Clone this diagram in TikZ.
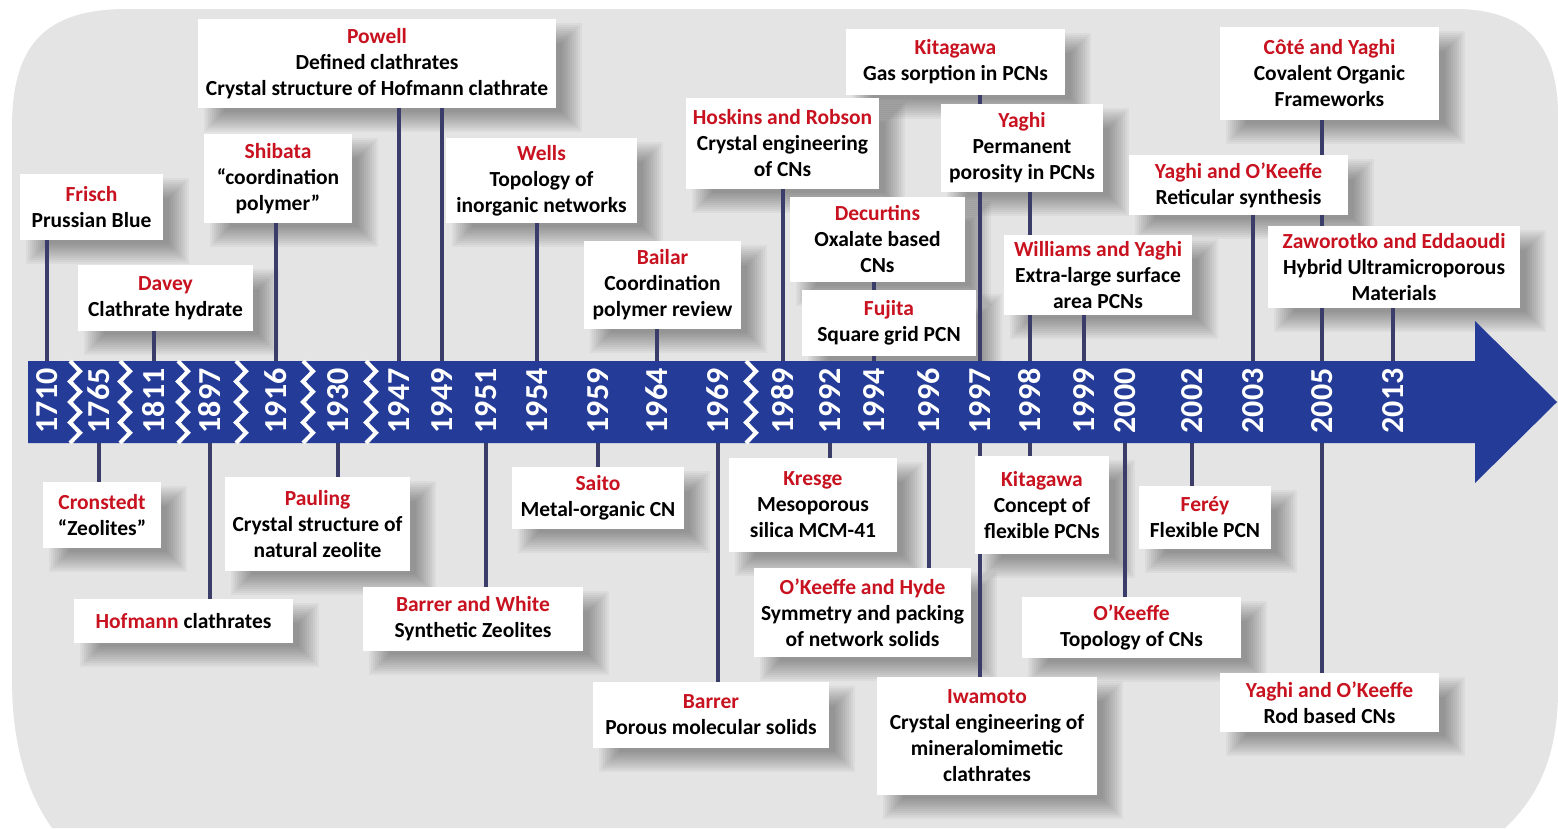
\documentclass[tikz,border=0pt]{standalone}
\usepackage{fontspec}
\setmainfont{Carlito}
\usetikzlibrary{backgrounds}
\pgfdeclarelayer{background}
\pgfdeclarelayer{shade}
\pgfsetlayers{background,shade,main}
\definecolor{bandblue}{RGB}{36,60,152}
\definecolor{stemblue}{RGB}{58,60,105}
\definecolor{namered}{RGB}{200,18,32}
\definecolor{panel}{RGB}{228,228,228}
\newcommand\au[1]{\textcolor{namered}{#1}}
\begin{document}
\begin{tikzpicture}[x=1pt,y=-1pt,
card/.style={fill=white, inner sep=0pt, align=center, font=\fontsize{21.5}{26}\selectfont\bfseries},
sz/.style 2 args={minimum width=#1pt, minimum height=#2pt},
year/.style={rotate=90, text=white, inner sep=0pt, font=\fontsize{32}{32}\selectfont\bfseries},
stem/.style={draw=stemblue, line width=3.5pt},
jag/.style={draw=white, line width=4pt, line join=miter}]
\useasboundingbox (0,0) rectangle (1558,828);
\begin{scope}[on background layer]
\fill[panel] (12,127) .. controls (12,45) and (45,9) .. (127,9) -- (1455,9)
  .. controls (1530,9) and (1558,50) .. (1558,115) -- (1558,690)
  .. controls (1558,760) and (1535,800) .. (1505,828) -- (52,828)
  .. controls (25,790) and (12,740) .. (12,680) -- cycle;
\end{scope}
\fill[bandblue] (28,361) -- (1475,361) -- (1475,321) -- (1557,402) -- (1475,483) -- (1475,443) -- (28,443) -- cycle;
\foreach \x in {75,125,183,241,308,371,751}
    \draw[jag] (\x-5,361) -- ++(10,10.25) -- ++(-10,10.25) -- ++(10,10.25) -- ++(-10,10.25)
      -- ++(10,10.25) -- ++(-10,10.25) -- ++(10,10.25) -- ++(-10,10.25);
\foreach \yr/\x in {1710/47,1765/99,1811/154,1897/210,1916/276,1930/338,1947/399,1949/442,1951/486,
    1954/537,1959/598,1964/657,1969/718,1989/783,1992/830,1994/874,1996/929,1997/980,1998/1030,
    1999/1084,2000/1125,2002/1192,2003/1253,2005/1322,2013/1393}
    \node[year] (y\yr) at (\x,401) {\yr};

\node[card, sz={358}{89}] (powell) at (377,63.5) {\au{Powell}\\Defined clathrates\\Crystal structure of Hofmann clathrate};
\node[card, sz={219}{93}] (cote) at (1329.5,73.5) {\au{Côté and Yaghi}\\Covalent Organic\\Frameworks};
\node[card, sz={219}{66}] (kitagawaA) at (955.5,62) {\au{Kitagawa}\\Gas sorption in PCNs};
\node[card, sz={193}{91}] (hoskins) at (782.5,143.5) {\au{Hoskins and Robson}\\Crystal engineering\\of CNs};
\node[card, sz={162}{88}] (yaghiA) at (1022,148) {\au{Yaghi}\\Permanent\\porosity in PCNs};
\node[card, sz={148}{89}] (shibata) at (278,178.5) {\au{Shibata}\\“coordination\\polymer”};
\node[card, sz={191}{85}] (wells) at (541.5,180.5) {\au{Wells}\\Topology of\\inorganic networks};
\node[card, sz={219}{60}] (reticular) at (1238.5,185) {\au{Yaghi and O’Keeffe}\\Reticular synthesis};
\node[card, sz={143}{66}] (frisch) at (91.5,207) {\au{Frisch}\\Prussian Blue};
\node[card, sz={175}{85}] (decurtins) at (877.5,239.5) {\au{Decurtins}\\Oxalate based\\CNs};
\node[card, sz={252}{82}] (zaworotko) at (1394,267) {\au{Zaworotko and Eddaoudi}\\Hybrid Ultramicroporous\\Materials};
\node[card, sz={188}{80}] (williams) at (1098,275) {\au{Williams and Yaghi}\\Extra-large surface\\area PCNs};
\node[card, sz={157}{88}] (bailar) at (662.5,285) {\au{Bailar}\\Coordination\\polymer review};
\node[card, sz={175}{66}] (davey) at (165.5,298) {\au{Davey}\\Clathrate hydrate};
\node[card, sz={174}{66}] (fujita) at (889,323) {\au{Fujita}\\Square grid PCN};

\node[card, sz={134}{98}] (kitagawaB) at (1042,505) {\au{Kitagawa}\\Concept of\\flexible PCNs};
\node[card, sz={168}{94}] (kresge) at (813,505) {\au{Kresge}\\Mesoporous\\silica MCM-41};
\node[card, sz={172}{62}] (saito) at (598,498) {\au{Saito}\\Metal-organic CN};
\node[card, sz={185}{94}] (pauling) at (317.5,524) {\au{Pauling}\\Crystal structure of\\natural zeolite};
\node[card, sz={118}{66}] (cronstedt) at (102,515) {\au{Cronstedt}\\“Zeolites”};
\node[card, sz={132}{63}] (ferey) at (1205,517.5) {\au{Feréy}\\Flexible PCN};
\node[card, sz={217}{89}] (hyde) at (862.5,612.5) {\au{O’Keeffe and Hyde}\\Symmetry and packing\\of network solids};
\node[card, sz={220}{64}] (barrerwhite) at (473,619) {\au{Barrer and White}\\Synthetic Zeolites};
\node[card, sz={219}{61}] (okeeffe) at (1131.5,627.5) {\au{O’Keeffe}\\Topology of CNs};
\node[card, sz={219}{44}] (hofmann) at (183.5,621) {\au{Hofmann} clathrates};
\node[card, sz={219}{59}] (rod) at (1329.5,702.5) {\au{Yaghi and O’Keeffe}\\Rod based CNs};
\node[card, sz={220}{118}] (iwamoto) at (987,736) {\au{Iwamoto}\\Crystal engineering of\\mineralomimetic\\clathrates};
\node[card, sz={236}{66}] (barrer) at (711,715) {\au{Barrer}\\Porous molecular solids};

\begin{pgfonlayer}{shade}
\foreach \b in {powell,cote,kitagawaA,hoskins,yaghiA,shibata,wells,reticular,frisch,decurtins,
    zaworotko,williams,bailar,davey,fujita,kitagawaB,kresge,saito,pauling,cronstedt,ferey,hyde,
    barrerwhite,okeeffe,hofmann,rod,iwamoto,barrer}
    \foreach \d in {-10,-8,...,10}
        \fill[black, opacity=0.034] ([shift={(16-\d,14-\d)}]\b.north west) rectangle ([shift={(16+\d,14+\d)}]\b.south east);
\foreach \yr/\b in {1710/frisch,1811/davey,1916/shibata,1947/powell,1949/powell,1954/wells,
    1964/bailar,1989/hoskins,1994/fujita,1994/decurtins,1997/kitagawaA,1998/yaghiA,1999/williams,
    2003/reticular,2005/cote,2013/zaworotko,1765/cronstedt,1897/hofmann,1930/pauling,
    1951/barrerwhite,1959/saito,1969/barrer,1992/kresge,1996/hyde,1997/iwamoto,1998/kitagawaB,
    2000/okeeffe,2002/ferey,2005/rod}
    \draw[stem] (y\yr.center) -- (y\yr.center |- \b.center);
\end{pgfonlayer}
\end{tikzpicture}
\end{document}
